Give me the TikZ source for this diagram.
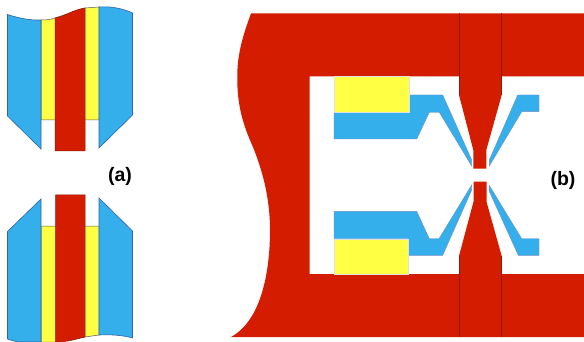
\documentclass[tikz,border=0pt]{standalone}
\usepackage{fontspec}
\setmainfont{Liberation Sans}
\usepackage{xcolor}
\definecolor{partred}{HTML}{D41C00}
\definecolor{partblue}{HTML}{35AEEC}
\definecolor{partyellow}{HTML}{FFFF43}
\definecolor{edgeblue}{HTML}{2F62A8}
\definecolor{edgered}{HTML}{8E1A08}
\begin{document}
\begin{tikzpicture}[x=1pt, y=-1pt, line join=miter,
    redpart/.style={fill=partred, draw=edgered, line width=0.5pt},
    bluepart/.style={fill=partblue, draw=edgeblue, line width=0.6pt},
    yellowpart/.style={fill=partyellow, draw=black!65, line width=0.5pt},
    redflat/.style={fill=partred},
    blueflat/.style={fill=partblue, draw=edgeblue!70, line width=0.4pt},
    yellowflat/.style={fill=partyellow, draw=black!12, line width=0.25pt},
    seam/.style={draw=edgered, line width=0.45pt},
    tag/.style={font=\fontsize{19.5}{20}\selectfont\bfseries}]
  \useasboundingbox (0,0) rectangle (584,342);

  % (a) upper part
  \draw[yellowpart] (41,20) .. controls (46,20) and (51,19.5) .. (55,18) -- (85,8) -- (99,7) -- (99,120) -- (41,120) -- cycle;
  \draw[bluepart]   (7.5,14.5) .. controls (18,18) and (30,20.5) .. (41,20) -- (41,149) -- (7.5,116) -- cycle;
  \draw[bluepart]   (99,7) .. controls (112,6) and (124,9) .. (132.5,13) -- (132.5,115) -- (99,148) -- cycle;
  \draw[redpart]    (55,18) .. controls (66,16) and (72,10) .. (85,8) -- (85,151) -- (55,151) -- cycle;

  % (a) lower part
  \draw[yellowpart] (41,226) -- (99,226) -- (99,335) -- (85,337) -- (55,342) -- (41,342) -- cycle;
  \draw[bluepart]   (7.5,231.5) -- (41,199) -- (41,342) -- (18,342) .. controls (14,341) and (10,340) .. (7.5,339) -- cycle;
  \draw[bluepart]   (99,198) -- (132.5,231) -- (132.5,338) .. controls (122,335) and (110,334.5) .. (99,335) -- cycle;
  \draw[redpart]    (55.5,195) -- (85,195) -- (85,337) .. controls (76,339) and (68,342) .. (55.5,342) -- cycle;

  % (b) frame with the two tips
  \fill[redflat] (251,13.5) -- (584,13.5) -- (584,76.3) -- (501.7,76.3) -- (501.7,95) -- (486.3,150) -- (486.3,168.7) -- (473.3,168.7) -- (473.3,150) -- (459,95) -- (459,76.3) -- (309.5,76.3) -- (309.5,274)
    -- (459,274) -- (459,256) -- (473.5,201.7) -- (473.5,181.7) -- (486.5,181.7) -- (486.5,201.7) -- (501.7,256) -- (501.7,274) -- (584,274) -- (584,337) -- (231,337)
    .. controls (262,320) and (270,270) .. (270,230)
    .. controls (270,190) and (258,160) .. (253,147)
    .. controls (243,125) and (237,105) .. (237.3,77)
    .. controls (237,55) and (243,35) .. (251,13.5) -- cycle;
  \draw[seam] (459,13.5) -- (459,95);
  \draw[seam] (501.7,13.5) -- (501.7,95);
  \draw[seam] (459,256) -- (459,337);
  \draw[seam] (501.7,256) -- (501.7,337);

  % (b) upper electrodes
  \draw[blueflat]   (334,112.3) -- (408.7,112.3) -- (408.7,95) -- (442.7,95) -- (471.7,160) -- (471.7,166) -- (439.3,112.3) -- (429.3,112.3) -- (416.7,139) -- (334,139) -- cycle;
  \draw[blueflat]   (517.7,95) -- (539,95) -- (539,111.7) -- (521.7,111.7) -- (489.3,166) -- (489.3,160) -- cycle;
  \draw[yellowflat] (334,76.3) rectangle (408.7,112.3);

  % (b) lower electrodes
  \draw[blueflat]   (334,211.3) -- (416.7,211.3) -- (429.3,238.7) -- (439,238.7) -- (471.7,185) -- (471.7,190) -- (442.7,255.3) -- (408.3,255.3) -- (408.3,238.7) -- (334,238.7) -- cycle;
  \draw[blueflat]   (489,185) -- (521.7,238.7) -- (539,238.7) -- (539,255.3) -- (518.3,255.3) -- (489,190.7) -- cycle;
  \draw[yellowflat] (334,238.7) rectangle (408.3,274);

  \node[tag] (tagA) at (120,176) {(a)};
  \node[tag] (tagB) at (563,180) {(b)};
\end{tikzpicture}
\end{document}
